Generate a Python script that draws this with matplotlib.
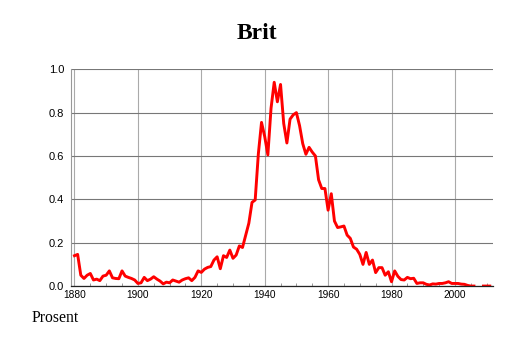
import numpy as np
import matplotlib
matplotlib.use('Agg')
import matplotlib.pyplot as plt
from matplotlib.ticker import MultipleLocator, FormatStrFormatter

title = "Brit"
ylabel_text = "Prosent"

years = np.arange(1880, 2012)
share = [
    0.14, 0.146, 0.05, 0.035, 0.05, 0.058, 0.028, 0.032, 0.025, 0.046,   # 1880-1889
    0.05, 0.07, 0.038, 0.035, 0.034, 0.07, 0.046, 0.04, 0.035, 0.028,    # 1890-1899
    0.012, 0.015, 0.04, 0.025, 0.032, 0.043, 0.032, 0.023, 0.01, 0.018,  # 1900-1909
    0.015, 0.028, 0.023, 0.018, 0.028, 0.034, 0.038, 0.025, 0.04, 0.07,  # 1910-1919
    0.063, 0.078, 0.086, 0.09, 0.12, 0.135, 0.08, 0.14, 0.132, 0.166,    # 1920-1929
    0.128, 0.143, 0.185, 0.178, 0.235, 0.29, 0.386, 0.397, 0.61, 0.755,  # 1930-1939
    0.69, 0.605, 0.82, 0.94, 0.85, 0.93, 0.75, 0.66, 0.77, 0.79,         # 1940-1949
    0.80, 0.74, 0.657, 0.608, 0.64, 0.618, 0.60, 0.49, 0.45, 0.45,       # 1950-1959
    0.35, 0.426, 0.30, 0.27, 0.273, 0.277, 0.235, 0.22, 0.18, 0.17,      # 1960-1969
    0.146, 0.10, 0.155, 0.10, 0.12, 0.062, 0.085, 0.085, 0.05, 0.066,    # 1970-1979
    0.02, 0.07, 0.045, 0.03, 0.028, 0.04, 0.034, 0.036, 0.012, 0.015,    # 1980-1989
    0.015, 0.008, 0.005, 0.01, 0.009, 0.012, 0.012, 0.015, 0.02, 0.012,  # 1990-1999
    0.012, 0.012, 0.009, 0.008, 0.003, 0.0, 0.0, np.nan, np.nan, 0.0,    # 2000-2009
    0.0, 0.0,                                                            # 2010-2011
]

fig = plt.figure(figsize=(5.14, 3.43), dpi=100)
ax = fig.add_axes([0.1387, 0.166, 0.821, 0.632])

ax.plot(years, share, color='#ff0000', lw=2.1, zorder=3)

ax.set_xlim(1879.0, 2012.1)
ax.set_ylim(0, 1.0)

ax.xaxis.set_major_locator(MultipleLocator(20))
ax.xaxis.set_minor_locator(MultipleLocator(5))
ax.yaxis.set_major_locator(MultipleLocator(0.2))
ax.yaxis.set_major_formatter(FormatStrFormatter('%.1f'))

# grid: horizontal darker than vertical
ax.grid(axis='y', color='#777777', lw=0.8)
ax.grid(axis='x', color='#aaaaaa', lw=0.8)
ax.set_axisbelow(True)

for s in ['top', 'right']:
    ax.spines[s].set_visible(False)
ax.spines['left'].set_color('#999999')
ax.spines['left'].set_linewidth(0.8)
ax.spines['bottom'].set_color('#222222')
ax.spines['bottom'].set_linewidth(0.9)
ax.spines['bottom'].set_zorder(4)

ax.tick_params(axis='x', which='major', length=0, pad=3, labelsize=7.3)
ax.tick_params(axis='x', which='minor', direction='in', length=2.5, color='#888888')
ax.tick_params(axis='y', length=0, pad=5, labelsize=8)
for lab in ax.get_xticklabels() + ax.get_yticklabels():
    lab.set_fontfamily('Liberation Sans')

fig.text(257 / 514, 1 - 33.5 / 343, title, ha='center', va='center',
         fontsize=17, fontweight='bold', family='Liberation Serif')
fig.text(32 / 514, 1 - 318 / 343, ylabel_text, ha='left', va='center',
         fontsize=11.3, family='Liberation Serif')

plt.savefig('out.png', dpi=100)
